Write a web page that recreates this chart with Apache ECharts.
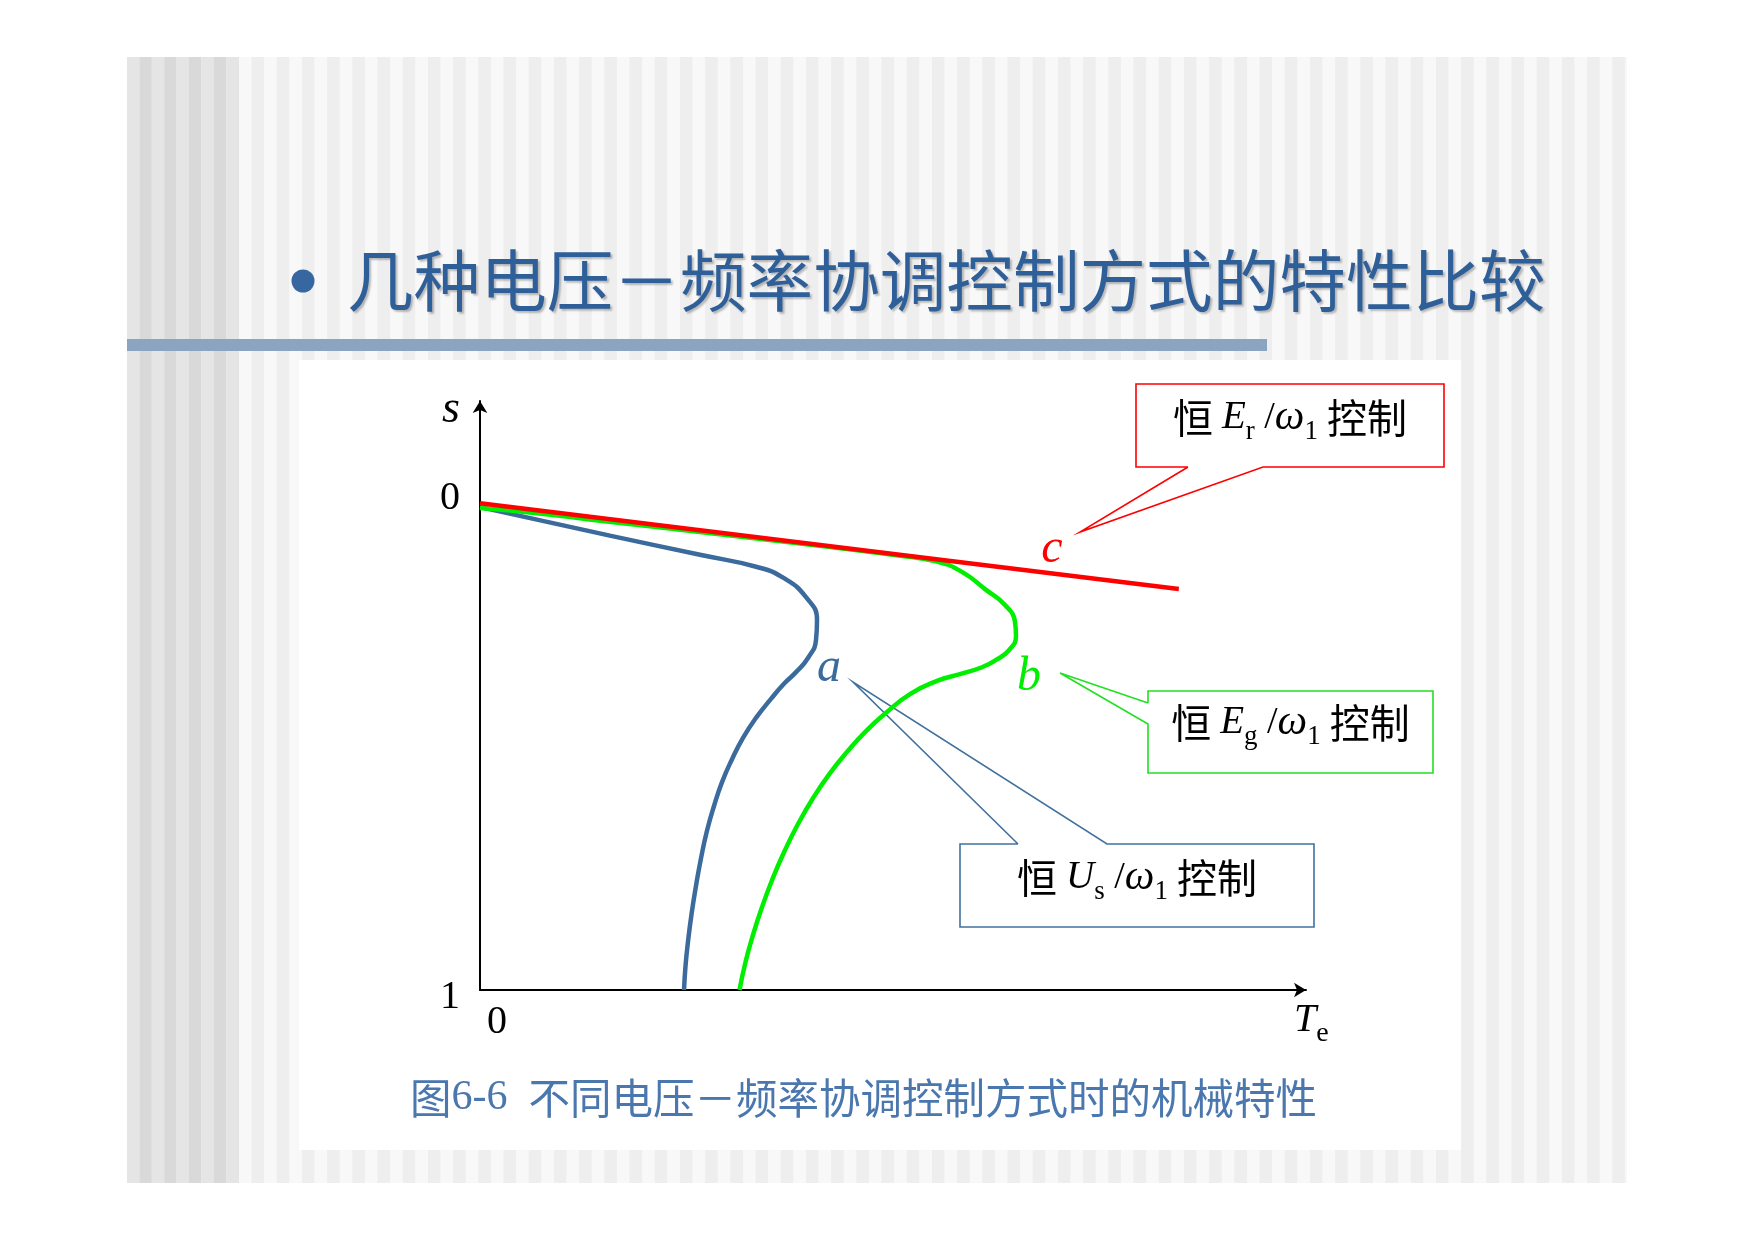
<!DOCTYPE html>
<html>
<head>
<meta charset="utf-8">
<script src="https://cdn.jsdelivr.net/npm/echarts@6/dist/echarts.min.js"></script>
<style>
html,body{margin:0;padding:0;background:#ffffff;}
#c{width:1754px;height:1241px;}
</style>
</head>
<body>
<div id="c"></div>
<script>
// ---------- data (Te, s) ----------
// curve a : constant Us/ω1
const curveA_T = [0, 15.86, 26.63, 33.54, 36.80, 39.47, 40.80, 40.68, 39.71, 38.26, 36.80, 35.23, 33.41, 31.84, 30.51, 29.30, 28.33, 27.48, 26.76, 26.15, 25.61, 25.18, 24.88, 24.70];
const curveA_s = [0.008, 0.067, 0.106, 0.131, 0.154, 0.193, 0.240, 0.281, 0.318, 0.347, 0.371, 0.402, 0.441, 0.482, 0.526, 0.573, 0.622, 0.673, 0.729, 0.786, 0.844, 0.901, 0.951, 1.0];
// curve b : constant Eg/ω1
const curveB_T = [0, 6.66, 14.53, 26.63, 38.74, 50.85, 55.33, 58.35, 61.26, 63.56, 64.77, 64.89, 64.04, 62.47, 60.77, 58.11, 55.33, 52.06, 49.27, 46.73, 44.43, 42.31, 40.31, 38.50, 36.86, 35.41, 34.14, 33.05, 32.14, 31.42];
const curveB_s = [0.010, 0.020, 0.036, 0.059, 0.083, 0.108, 0.120, 0.141, 0.178, 0.209, 0.244, 0.273, 0.302, 0.322, 0.337, 0.351, 0.365, 0.392, 0.429, 0.468, 0.511, 0.556, 0.606, 0.659, 0.715, 0.772, 0.830, 0.887, 0.943, 1.0];
// curve c : constant Er/ω1 (straight line)
const curveC_T = [0, 84.6];
const curveC_s = [0, 0.176];
// tick labels
const yTickValues = [0, 1];
const xTickValues = [0];
const curveLetters = ['a', 'b', 'c'];
const calloutSymbols = [['U', 's'], ['E', 'g'], ['E', 'r']];

// ---------- helpers ----------
const SERIF = "'Liberation Serif', 'Times New Roman', serif";
const CJK = "'Noto Sans CJK SC', sans-serif";
function pairs(T, S) { return T.map(function (t, i) { return [t, S[i]]; }); }

const COL_A = '#3b6a9c', COL_B = '#00ee00', COL_C = '#ff0000';

// ---------- background graphics ----------
const g = [];
const SX = 127, SY = 57, SW = 1500, SH = 1126;
g.push({type: 'rect', shape: {x: SX, y: SY, width: SW, height: SH}, style: {fill: '#f5f5f5'}, z: -30, silent: true});
(function () {
  let k = 0;
  for (let x = SX; x < 239; x += 12.4, k++) {
    g.push({type: 'rect', shape: {x: x, y: SY, width: Math.min(12.4, 239 - x), height: SH}, style: {fill: k % 2 ? '#d9d9d9' : '#e5e5e5'}, z: -29, silent: true});
  }
  k = 0;
  for (let x = 239; x < SX + SW; x += 12.6, k++) {
    g.push({type: 'rect', shape: {x: x, y: SY, width: Math.min(12.6, SX + SW - x), height: SH}, style: {fill: k % 2 ? '#eeeeee' : '#f8f8f8'}, z: -29, silent: true});
  }
})();
// white figure panel
g.push({type: 'rect', shape: {x: 299, y: 360, width: 1162, height: 790}, style: {fill: '#ffffff'}, z: -20, silent: true});
// title rule bar
g.push({type: 'rect', shape: {x: SX, y: 339, width: 1140, height: 12}, style: {fill: '#8ba5c1'}, z: -19, silent: true});
// bullet + title
g.push({type: 'circle', shape: {cx: 303, cy: 281, r: 11.5}, style: {fill: '#3767a1'}, z: 5});
g.push({type: 'text', x: 347, y: 281, z: 5, style: {
  text: '几种电压－频率协调控制方式的特性比较', font: "66.6px 'Noto Sans CJK SC'", fill: '#2f5f99',
  align: 'left', verticalAlign: 'middle',
  textShadowColor: 'rgba(0,0,0,0.25)', textShadowOffsetX: 2, textShadowOffsetY: 2, textShadowBlur: 2}});
// caption
g.push({type: 'text', x: 410, y: 1098, z: 5, style: {
  text: '{c|图}{d|6-6  }{c|不同电压－频率协调控制方式时的机械特性}', fill: '#4a77ad',
  align: 'left', verticalAlign: 'middle',
  rich: {c: {fontFamily: CJK, fontSize: 41.5, fill: '#4a77ad'}, d: {fontFamily: SERIF, fontSize: 42, fill: '#4a77ad'}}}});

// callouts
const richBox = {
  cn: {fontFamily: CJK, fontSize: 40, lineHeight: 48},
  it: {fontFamily: SERIF, fontStyle: 'italic', fontSize: 39, lineHeight: 48},
  w: {fontFamily: SERIF, fontStyle: 'italic', fontSize: 42, lineHeight: 48},
  n: {fontFamily: SERIF, fontSize: 38, lineHeight: 48},
  sub: {fontFamily: SERIF, fontSize: 27, lineHeight: 48, padding: [28, 0, 0, 0]}
};
function calloutText(sym) {
  return '{cn|恒 }{it|' + sym[0] + '}{sub|' + sym[1] + '}{n| /}{w|ω}{sub|1}{cn| 控制}';
}
function callout(rect, wedge, color, sym, ty) {
  g.push({type: 'rect', shape: {x: rect[0], y: rect[1], width: rect[2] - rect[0], height: rect[3] - rect[1]}, style: {fill: '#ffffff', stroke: null}, z: 1});
  g.push({type: 'polyline', shape: {points: wedge}, style: {stroke: color, lineWidth: 1.6, fill: null}, z: 1});
  g.push({type: 'text', x: (rect[0] + rect[2]) / 2, y: ty, z: 6, style: {
    text: calloutText(sym), rich: richBox, fill: '#000', align: 'center', verticalAlign: 'middle'}});
}
// red box (Er)
callout([1136, 384, 1444, 467],
  [[1188, 467], [1136, 467], [1136, 384], [1444, 384], [1444, 467], [1263, 467], [1080, 532], [1188, 467]],
  '#ff0000', calloutSymbols[2], 418);
// green box (Eg)
callout([1148, 691, 1433, 773],
  [[1148, 703], [1148, 691], [1433, 691], [1433, 773], [1148, 773], [1148, 724], [1060, 673], [1148, 703]],
  '#22e022', calloutSymbols[1], 723);
// blue box (Us)
callout([960, 844, 1314, 927],
  [[1018, 844], [960, 844], [960, 927], [1314, 927], [1314, 844], [1107, 844], [853, 682], [1018, 844]],
  '#41719c', calloutSymbols[0], 878);

// curve letters
function letter(txt, x, y, col) {
  g.push({type: 'text', x: x, y: y, z: 6, style: {text: txt, font: "italic 48px " + SERIF, fill: col, align: 'center', verticalAlign: 'middle'}});
}
letter(curveLetters[0], 829, 668, COL_A);
letter(curveLetters[1], 1029, 677, COL_B);
letter(curveLetters[2], 1052, 549, COL_C);

// ---------- chart ----------
const chart = echarts.init(document.getElementById('c'), null, {renderer: 'canvas'});
const option = {
  backgroundColor: '#ffffff',
  animation: false,
  grid: {left: 480, top: 401, width: 826, height: 589, containLabel: false, outerBoundsMode: 'none'},
  xAxis: {
    type: 'value', min: 0, max: 100,
    axisLine: {show: true, onZero: false, symbol: ['none', 'arrow'], symbolSize: [11, 12], lineStyle: {color: '#000', width: 2}},
    axisTick: {show: false}, splitLine: {show: false},
    axisLabel: {customValues: xTickValues, fontFamily: SERIF, fontSize: 40, color: '#000', align: 'left', margin: 12, padding: [0, 0, 0, 7]},
    name: '{t|T}{e|e}', nameLocation: 'end', nameGap: -12,
    nameTextStyle: {align: 'left', verticalAlign: 'middle', padding: [60, 0, 0, 0],
      rich: {t: {fontFamily: SERIF, fontStyle: 'italic', fontSize: 40, lineHeight: 48, color: '#000'},
             e: {fontFamily: SERIF, fontSize: 28, lineHeight: 48, padding: [28, 0, 0, 0], color: '#000'}}}
  },
  yAxis: {
    type: 'value', inverse: true, min: -0.21, max: 1,
    axisLine: {show: true, onZero: false, symbol: ['none', 'arrow'], symbolSize: [11, 12], lineStyle: {color: '#000', width: 2}},
    axisTick: {show: false}, splitLine: {show: false},
    axisLabel: {customValues: yTickValues, fontFamily: SERIF, fontSize: 40, color: '#000', margin: 20,
      formatter: function (v) { return v === 1 ? '{lo|1}' : '{hi|0}'; },
      rich: {lo: {fontFamily: SERIF, fontSize: 40, color: '#000', padding: [14, 0, 0, 0]},
             hi: {fontFamily: SERIF, fontSize: 40, color: '#000', padding: [0, 0, 10, 0]}}},
    name: 's', nameLocation: 'start', nameGap: -9,
    nameTextStyle: {fontFamily: SERIF, fontStyle: 'italic', fontSize: 46, color: '#000', align: 'right', verticalAlign: 'middle', padding: [0, 20, 0, 0]}
  },
  graphic: {elements: g},
  series: [
    {type: 'line', name: 'a', data: pairs(curveA_T, curveA_s), showSymbol: false, smooth: 0.5, z: 3,
     lineStyle: {color: COL_A, width: 4.5}},
    {type: 'line', name: 'b', data: pairs(curveB_T, curveB_s), showSymbol: false, smooth: 0.5, z: 3,
     lineStyle: {color: COL_B, width: 4.5}},
    {type: 'line', name: 'c', data: pairs(curveC_T, curveC_s), showSymbol: false, smooth: false, z: 4,
     lineStyle: {color: COL_C, width: 4.5}}
  ]
};
chart.setOption(option);
</script>
</body>
</html>
